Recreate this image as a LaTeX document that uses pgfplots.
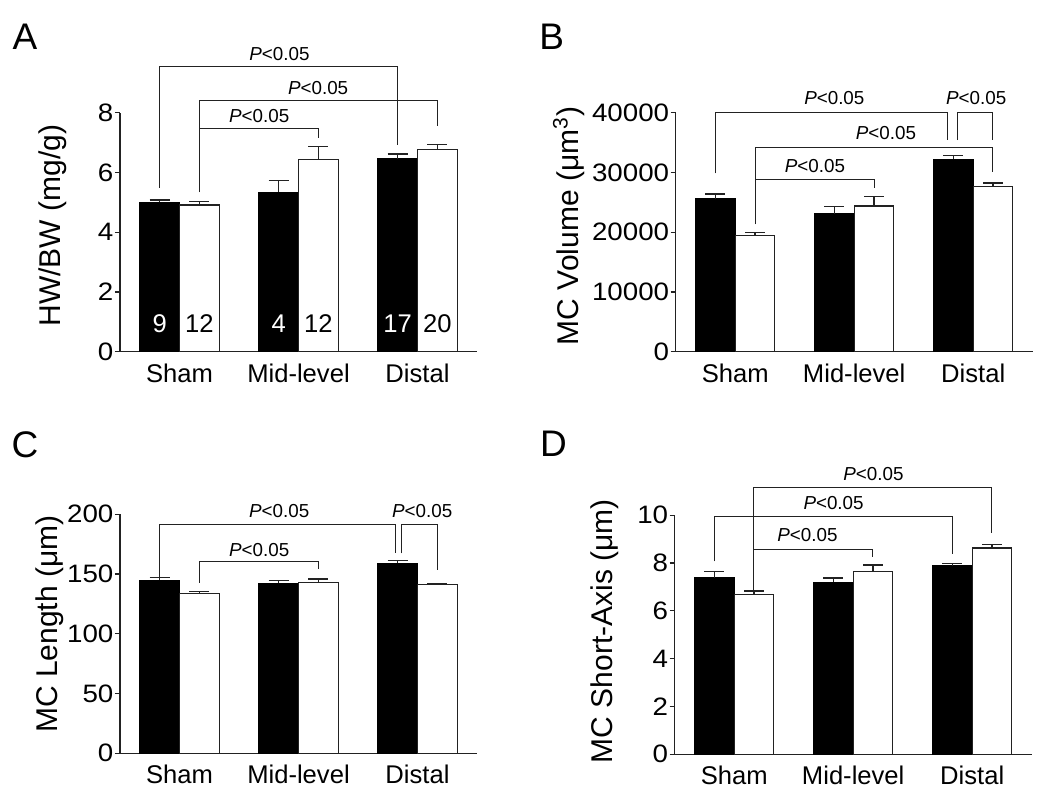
\documentclass[border=0pt]{standalone}
\usepackage{pgfplots}
\pgfplotsset{compat=1.18}
\usepackage{fontspec}
\setmainfont{Liberation Sans}
\newfontfamily\tickfont[FakeStretch=1.1]{Liberation Sans}
\definecolor{ln}{HTML}{222222}
\pgfplotsset{
  panel/.style={
    scale only axis, width=178.5bp, height=119.5bp,
    axis lines*=left,
    axis line style={line width=0.6bp, ln},
    xmin=-0.5, xmax=2.5, ymin=0,
    xtick={0,1,2}, xticklabels={Sham,Mid-level,Distal},
    x tick style={draw=none},
    y tick style={line width=0.6bp, ln},
    tick align=outside, major tick length=2.5bp,
    ybar, bar width=0.333,
    yticklabel style={font=\tickfont\fontsize{12.6bp}{15bp}\selectfont, inner sep=0.6bp},
    xticklabel style={font=\fontsize{12.8bp}{15bp}\selectfont},
    /pgf/number format/assume math mode=true,
    /pgf/number format/1000 sep={},
    scaled y ticks=false,
    clip=false,
  },
  ylab/.style 2 args={every axis y label/.style={at={(axis description cs:#1,#2)}, rotate=90, anchor=center, font=\fontsize{15bp}{17bp}\selectfont}},
  blk/.style={fill=black, draw=black, line width=0.5bp, bar shift=-0.1667,
    error bars/.cd, y dir=plus, y explicit, error mark=|,
    error bar style={line width=0.6bp, ln},
    error mark options={line width=0.6bp, mark size=5bp, ln}},
  wht/.style={fill=white, draw=ln, line width=0.6bp, bar shift=0.1667,
    error bars/.cd, y dir=plus, y explicit, error mark=|,
    error bar style={line width=0.6bp, ln},
    error mark options={line width=0.6bp, mark size=5bp, ln}},
}
\tikzset{
  br/.style={line width=0.5bp, draw=ln},
  pl/.style={font=\fontsize{9.4bp}{11bp}\selectfont, inner sep=0pt, anchor=center},
  nn/.style={font=\fontsize{12.8bp}{15bp}\selectfont, inner sep=0pt},
  lt/.style={font=\fontsize{18.5bp}{20bp}\selectfont, inner sep=0pt},
}
\newcommand{\pv}{\textit{P}<0.05}

\pgfplotstableread{
x y e
0 5.00 0.08
1 5.34 0.40
2 6.46 0.16
}\Ablack
\pgfplotstableread{
x y e
0 4.91 0.12
1 6.42 0.46
2 6.78 0.16
}\Awhite
\pgfplotstableread{
x y e
0 25600 800
1 23100 1200
2 32200 600
}\Bblack
\pgfplotstableread{
x y e
0 19400 500
1 24400 1600
2 27600 650
}\Bwhite
\pgfplotstableread{
x y e
0 145.0 2.0
1 142.3 2.1
2 159.0 2.5
}\Cblack
\pgfplotstableread{
x y e
0 133.9 1.4
1 142.8 3.0
2 141.4 0.5
}\Cwhite
\pgfplotstableread{
x y e
0 7.38 0.27
1 7.19 0.19
2 7.89 0.09
}\Dblack
\pgfplotstableread{
x y e
0 6.68 0.15
1 7.65 0.27
2 8.63 0.16
}\Dwhite

\begin{document}
\begin{tikzpicture}
\path[use as bounding box] (0,0) rectangle (525bp,401.5bp);

% Panel letters
\node[lt] at (12.5bp,383bp) {A};
\node[lt] at (275.9bp,383bp) {B};
\node[lt] at (12.5bp,179bp) {C};
\node[lt] at (276.7bp,179.8bp) {D};

% ---------------- A
\begin{axis}[panel, at={(60bp,225.65bp)}, anchor=south west,
  ymax=8, ytick={0,2,4,6,8},
  ylabel={HW/BW (mg/g)}, ylab={-0.189}{0.527}]
\addplot[blk] table[x=x,y=y,y error=e] {\Ablack};
\addplot[wht] table[x=x,y=y,y error=e] {\Awhite};
\node[nn, text=white] at (-0.167,0.93) {9};
\node[nn] at (0.167,0.93) {12};
\node[nn, text=white] at (0.833,0.93) {4};
\node[nn] at (1.167,0.93) {12};
\node[nn, text=white] at (1.833,0.93) {17};
\node[nn] at (2.167,0.93) {20};
\draw[br] (-0.167,5.48) -- (-0.167,9.56) -- (1.833,9.56) -- (1.833,6.91);
\node[pl] at (0.84,9.96) {\pv};
\draw[br] (0.167,5.34) -- (0.167,8.42) -- (2.167,8.42) -- (2.167,7.55);
\node[pl] at (1.165,8.84) {\pv};
\draw[br] (0.167,5.34) -- (0.167,7.46) -- (1.167,7.46) -- (1.167,7.16);
\node[pl] at (0.67,7.89) {\pv};
\end{axis}

% ---------------- B
\begin{axis}[panel, at={(337.85bp,225.65bp)}, anchor=south west,
  ymax=40000, ytick={0,10000,20000,30000,40000},
  ylabel={MC Volume (μm\textsuperscript{3})}, ylab={-0.30}{0.526}]
\addplot[blk] table[x=x,y=y,y error=e] {\Bblack};
\addplot[wht] table[x=x,y=y,y error=e] {\Bwhite};
\draw[br] (-0.167,29860) -- (-0.167,40000) -- (1.787,40000) -- (1.787,35430);
\node[pl] at (0.833,42400) {\pv};
\draw[br] (1.87,35430) -- (1.87,40000) -- (2.165,40000) -- (2.165,35430);
\node[pl] at (2.025,42400) {\pv};
\draw[br] (0.167,21370) -- (0.167,34200) -- (2.165,34200) -- (2.165,30130);
\node[pl] at (1.267,36550) {\pv};
\draw[br] (0.167,21370) -- (0.167,28740) -- (1.17,28740) -- (1.17,27340);
\node[pl] at (0.67,31130) {\pv};
\end{axis}

% ---------------- C
\begin{axis}[panel, at={(60bp,24.85bp)}, anchor=south west,
  ymax=200, ytick={0,50,100,150,200},
  ylabel={MC Length (μm)}, ylab={-0.196}{0.54}]
\addplot[blk] table[x=x,y=y,y error=e] {\Cblack};
\addplot[wht] table[x=x,y=y,y error=e] {\Cwhite};
\draw[br] (-0.167,147.8) -- (-0.167,191.6) -- (1.815,191.6) -- (1.815,167.4);
\node[pl] at (0.838,202.8) {\pv};
\draw[br] (1.863,167.4) -- (1.863,191.6) -- (2.17,191.6) -- (2.17,153.4);
\node[pl] at (2.04,202.8) {\pv};
\draw[br] (0.17,142.8) -- (0.17,160.9) -- (1.17,160.9) -- (1.17,154);
\node[pl] at (0.67,170.1) {\pv};
\end{axis}

% ---------------- D
\begin{axis}[panel, at={(337.35bp,24.35bp)}, anchor=south west,
  ymax=10, ytick={0,2,4,6,8,10},
  ylabel={MC Short-Axis (μm)}, ylab={-0.195}{0.515}]
\addplot[blk] table[x=x,y=y,y error=e] {\Dblack};
\addplot[wht] table[x=x,y=y,y error=e] {\Dwhite};
\draw[br] (0.165,6.89) -- (0.165,11.17) -- (2.162,11.17) -- (2.162,9.26);
\node[pl] at (1.17,11.71) {\pv};
\draw[br] (-0.168,8.07) -- (-0.168,9.96) -- (1.832,9.96) -- (1.832,8.40);
\node[pl] at (0.835,10.52) {\pv};
\draw[br] (0.165,6.89) -- (0.165,8.56) -- (1.162,8.56) -- (1.162,8.26);
\node[pl] at (0.616,9.19) {\pv};
\end{axis}
\end{tikzpicture}
\end{document}
